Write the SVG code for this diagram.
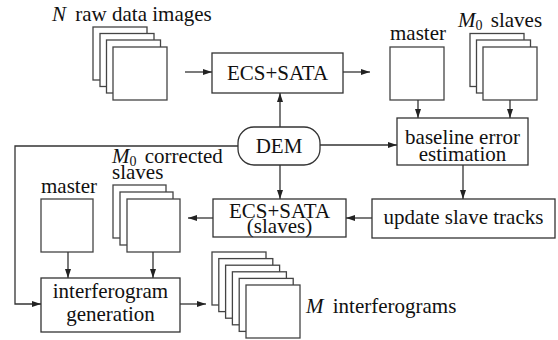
<svg xmlns="http://www.w3.org/2000/svg" width="558" height="340" viewBox="0 0 558 340">
<defs>
<marker id="ah" markerWidth="9" markerHeight="6" refX="9" refY="3" orient="auto" markerUnits="userSpaceOnUse">
<path d="M0,0 L9,3 L0,6 z" fill="#222"/>
</marker>
</defs>
<style>
.box{fill:#fff;stroke:#333;stroke-width:1.3}
.img{fill:#fff;stroke:#444;stroke-width:1.3}
.t{font-family:'Liberation Serif','Times New Roman',serif;font-size:21px;fill:#111}
.c{text-anchor:middle}
.i{font-style:italic}
.con{fill:none;stroke:#333;stroke-width:1.3;marker-end:url(#ah)}
</style>
<rect width="558" height="340" fill="#fff"/>

<g id="raw-images">
<text class="t" x="52" y="21"><tspan class="i">N</tspan><tspan dx="4"> raw data images</tspan></text>
<rect class="img" x="93" y="27" width="54" height="53"/>
<rect class="img" x="100" y="33.5" width="54" height="53"/>
<rect class="img" x="106.5" y="40" width="54" height="53"/>
<rect class="img" x="113" y="47" width="54" height="53"/>
</g>

<g id="ecs-sata">
<rect class="box" x="212" y="53" width="131" height="40"/>
<text class="t c" x="277.5" y="80">ECS+SATA</text>
</g>

<g id="master-top">
<text class="t" x="390" y="40">master</text>
<rect class="img" x="390" y="47" width="54" height="53"/>
</g>

<g id="m0-slaves">
<text class="t" x="458" y="27"><tspan class="i">M</tspan><tspan font-size="14" dy="3">0</tspan><tspan dy="-3" dx="3"> slaves</tspan></text>
<rect class="img" x="470" y="33.5" width="54" height="53"/>
<rect class="img" x="476.5" y="40" width="54" height="53"/>
<rect class="img" x="483" y="47" width="54" height="53"/>
</g>

<g id="dem">
<rect class="box" x="238" y="127" width="82" height="38" rx="16" ry="16"/>
<text class="t c" x="279" y="153">DEM</text>
</g>

<g id="baseline">
<rect class="box" x="397" y="118" width="131" height="47"/>
<text class="t c" x="462.5" y="144">baseline error</text>
<text class="t c" x="462.5" y="161">estimation</text>
</g>

<g id="update">
<rect class="box" x="372" y="199" width="183" height="39"/>
<text class="t c" x="463.5" y="224">update slave tracks</text>
</g>

<g id="ecs-sata-slaves">
<rect class="box" x="213" y="199" width="133" height="38"/>
<text class="t c" x="279.5" y="218">ECS+SATA</text>
<text class="t c" x="279.5" y="233">(slaves)</text>
</g>

<g id="corrected-slaves">
<text class="t" x="112" y="163"><tspan class="i">M</tspan><tspan font-size="14" dy="3">0</tspan><tspan dy="-3" dx="3"> corrected</tspan></text>
<text class="t" x="112" y="179">slaves</text>
<rect class="img" x="113" y="185" width="53" height="53"/>
<rect class="img" x="120" y="192" width="53" height="53"/>
<rect class="img" x="127" y="199" width="53" height="53"/>
</g>

<g id="master-bottom">
<text class="t" x="41" y="193">master</text>
<rect class="img" x="41" y="199" width="52" height="53"/>
</g>

<g id="interferogram-generation">
<rect class="box" x="41" y="278" width="139" height="54"/>
<text class="t c" x="110.5" y="298">interferogram</text>
<text class="t c" x="110.5" y="321">generation</text>
</g>

<g id="m-interferograms">
<rect class="img" x="212" y="252" width="54" height="53"/>
<rect class="img" x="218.8" y="258.6" width="54" height="53"/>
<rect class="img" x="225.6" y="265.2" width="54" height="53"/>
<rect class="img" x="232.4" y="271.8" width="54" height="53"/>
<rect class="img" x="239.2" y="278.4" width="54" height="53"/>
<rect class="img" x="246" y="285" width="54" height="53"/>
<text class="t" x="306" y="313"><tspan class="i">M</tspan><tspan dx="4"> interferograms</tspan></text>
</g>

<g id="connectors">
<line class="con" x1="185" y1="72" x2="212" y2="72"/>
<line class="con" x1="343" y1="72" x2="370" y2="72"/>
<line class="con" x1="418" y1="100" x2="418" y2="118"/>
<line class="con" x1="510" y1="100" x2="510" y2="118"/>
<line class="con" x1="280" y1="127" x2="280" y2="93"/>
<line class="con" x1="320" y1="145" x2="397" y2="145"/>
<line class="con" x1="280" y1="165" x2="280" y2="199"/>
<line class="con" x1="463" y1="165" x2="463" y2="199"/>
<line class="con" x1="372" y1="218" x2="346" y2="218"/>
<line class="con" x1="213" y1="218" x2="188" y2="218"/>
<line class="con" x1="68" y1="252" x2="68" y2="278"/>
<line class="con" x1="153" y1="252" x2="153" y2="278"/>
<polyline class="con" points="238,146 15,146 15,304 41,304"/>
<line class="con" x1="180" y1="304" x2="206" y2="304"/>
</g>
</svg>
